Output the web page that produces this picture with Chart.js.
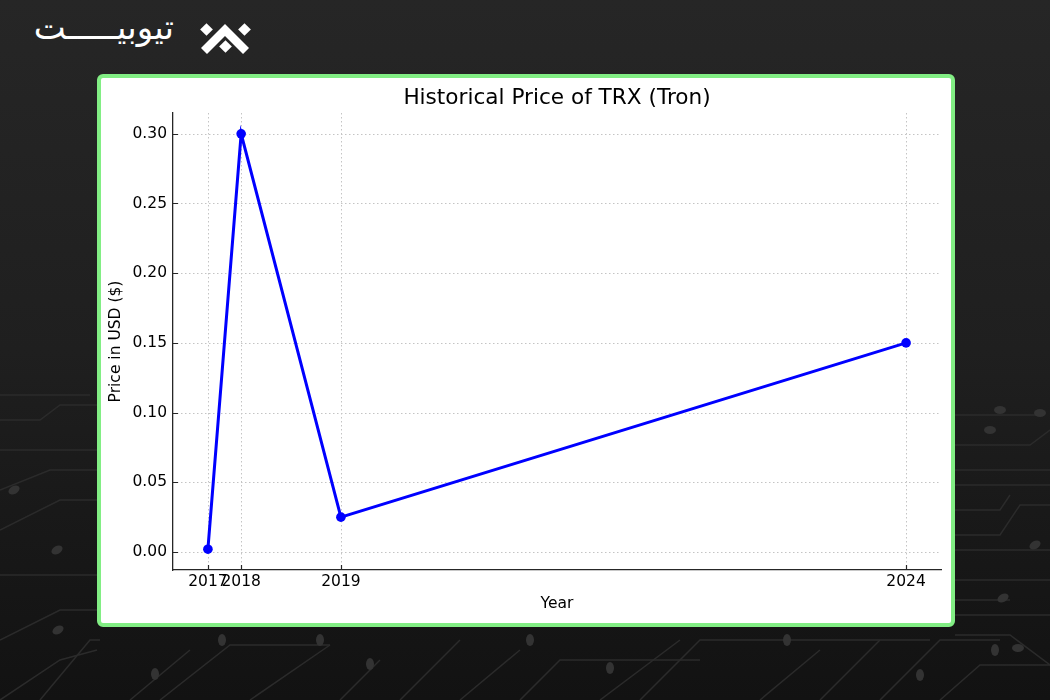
<!DOCTYPE html>
<html><head><meta charset="utf-8">
<script src="https://cdn.jsdelivr.net/npm/chart.js@4.4.1/dist/chart.umd.min.js"></script>
<style>
html,body{margin:0;padding:0;}
body{width:1050px;height:700px;overflow:hidden;position:relative;background:linear-gradient(#262626 0%,#1f1f1f 50%,#121212 100%);}
#bg{position:absolute;left:0;top:0;}
#logo{position:absolute;left:0;top:5px;width:174px;text-align:right;direction:rtl;color:#fff;font-family:"DejaVu Sans";font-size:34px;line-height:44px;white-space:nowrap;}
#panel{position:absolute;left:97px;top:74px;width:850px;height:545px;border:4px solid #82ee84;border-radius:6px;background:#fff;}
#c{display:block;}
</style></head>
<body>
<svg id="bg" width="1050" height="700" viewBox="0 0 1050 700">
  <g stroke="#2b2b2b" stroke-width="1.5" fill="none">
    <polyline points="0,395 90,395"/>
    <polyline points="0,420 40,420 60,405 97,405"/>
    <polyline points="0,450 97,450"/>
    <polyline points="0,490 50,470 97,470"/>
    <polyline points="0,530 60,500 97,500"/>
    <polyline points="0,575 97,575"/>
    <polyline points="0,640 60,610 97,610"/>
    <polyline points="0,700 60,660 97,650"/>
    <polyline points="955,415 1040,415"/>
    <polyline points="955,445 1030,445 1050,430"/>
    <polyline points="955,470 1050,470"/>
    <polyline points="955,485 1050,485"/>
    <polyline points="955,510 1000,510 1010,495"/>
    <polyline points="955,535 1000,535 1020,505 1050,505"/>
    <polyline points="955,550 1050,550"/>
    <polyline points="955,580 1050,580"/>
    <polyline points="955,600 1010,600"/>
    <polyline points="955,615 1050,615"/>
    <polyline points="955,635 1010,635 1050,665"/>
    <polyline points="40,700 90,640 100,640"/>
    <polyline points="130,700 190,650"/>
    <polyline points="160,700 230,645 330,645"/>
    <polyline points="250,700 330,645"/>
    <polyline points="340,700 380,660"/>
    <polyline points="400,700 460,640"/>
    <polyline points="460,700 520,650"/>
    <polyline points="520,700 560,660 700,660"/>
    <polyline points="600,700 680,640"/>
    <polyline points="640,700 700,640 930,640"/>
    <polyline points="760,700 820,650"/>
    <polyline points="820,700 880,640"/>
    <polyline points="880,700 940,640 1000,640"/>
    <polyline points="940,700 980,665 1050,665"/>
  </g>
  <g fill="#333">
    <ellipse cx="14" cy="490" rx="6" ry="4" transform="rotate(-30 14 490)"/>
    <ellipse cx="57" cy="550" rx="6" ry="4" transform="rotate(-30 57 550)"/>
    <ellipse cx="58" cy="630" rx="6" ry="4" transform="rotate(-30 58 630)"/>
    <ellipse cx="1035" cy="545" rx="6" ry="4" transform="rotate(-30 1035 545)"/>
    <ellipse cx="1003" cy="598" rx="6" ry="4" transform="rotate(-30 1003 598)"/>
    <ellipse cx="1000" cy="410" rx="6" ry="4"/>
    <ellipse cx="990" cy="430" rx="6" ry="4"/>
    <ellipse cx="1040" cy="413" rx="6" ry="4"/>
    <ellipse cx="1018" cy="648" rx="6" ry="4"/>
    <ellipse cx="222" cy="640" rx="4" ry="6"/>
    <ellipse cx="320" cy="640" rx="4" ry="6"/>
    <ellipse cx="530" cy="640" rx="4" ry="6"/>
    <ellipse cx="787" cy="640" rx="4" ry="6"/>
    <ellipse cx="995" cy="650" rx="4" ry="6"/>
    <ellipse cx="155" cy="674" rx="4" ry="6"/>
    <ellipse cx="370" cy="664" rx="4" ry="6"/>
    <ellipse cx="610" cy="668" rx="4" ry="6"/>
    <ellipse cx="920" cy="675" rx="4" ry="6"/>
  </g>
  <g fill="#fff">
    <polygon points="201,48 225,24 249,48 243,54 225,36 207,54"/>
    <rect x="202" y="25" width="9" height="9" transform="rotate(45 206.5 29.5)"/>
    <rect x="240" y="25" width="9" height="9" transform="rotate(45 244.5 29.5)"/>
    <rect x="221" y="42" width="9" height="9" transform="rotate(45 225.5 46.5)"/>
  </g>
</svg>
<div id="logo">تیوبیـــــت</div>
<div id="panel"><canvas id="c" width="850" height="545"></canvas></div>
<script>
const years = [2017.7, 2018.0, 2018.9, 2024.0];
const yearLabels = ['2017', '2018', '2019', '2024'];
const prices = [0.002, 0.30, 0.025, 0.15];
const priceTicks = [0.00, 0.05, 0.10, 0.15, 0.20, 0.25, 0.30];
const chartTitle = 'Historical Price of TRX (Tron)';

const xr = Math.max(...years) - Math.min(...years);
const yr = Math.max(...prices) - Math.min(...prices);
const xMin = Math.min(...years) - 0.05 * xr, xMax = Math.max(...years) + 0.05 * xr;
const yMin = Math.min(...prices) - 0.05 * yr, yMax = Math.max(...prices) + 0.05 * yr;

const FONT = 'DejaVu Sans';

const dottedGrid = {
  id: 'dottedGrid',
  beforeDatasetsDraw(chart) {
    const ctx = chart.ctx, xs = chart.scales.x, ys = chart.scales.y, a = chart.chartArea;
    ctx.save();
    ctx.strokeStyle = '#c4c4c4';
    ctx.lineWidth = 1;
    ctx.setLineDash([1.5, 2.5]);
    ctx.beginPath();
    years.forEach(v => { const p = Math.round(xs.getPixelForValue(v)) + 0.5; ctx.moveTo(p, a.top); ctx.lineTo(p, a.bottom); });
    priceTicks.forEach(v => { const p = Math.round(ys.getPixelForValue(v)) + 0.5; ctx.moveTo(a.left, p); ctx.lineTo(a.right, p); });
    ctx.stroke();
    ctx.restore();
  },
  afterDraw(chart) {
    const ctx = chart.ctx, xs = chart.scales.x, ys = chart.scales.y, a = chart.chartArea;
    ctx.save();
    ctx.strokeStyle = '#262626';
    ctx.lineWidth = 1.2;
    ctx.beginPath();
    years.forEach(v => { const p = Math.round(xs.getPixelForValue(v)) + 0.5; ctx.moveTo(p, a.bottom); ctx.lineTo(p, a.bottom - 5); });
    priceTicks.forEach(v => { const p = Math.round(ys.getPixelForValue(v)) + 0.5; ctx.moveTo(a.left, p); ctx.lineTo(a.left + 5, p); });
    ctx.stroke();
    ctx.fillStyle = '#000';
    ctx.font = '21.6px "DejaVu Sans"';
    ctx.textAlign = 'center';
    ctx.textBaseline = 'middle';
    ctx.fillText(chartTitle, (a.left + a.right) / 2, 20);
    ctx.restore();
  }
};

new Chart(document.getElementById('c'), {
  type: 'line',
  data: {
    datasets: [{
      data: years.map((x, i) => ({ x: x, y: prices[i] })),
      borderColor: '#0000ff',
      backgroundColor: '#0000ff',
      borderWidth: 3,
      pointRadius: 4.8,
      pointBorderWidth: 0,
      tension: 0,
      clip: false
    }]
  },
  options: {
    responsive: false,
    animation: false,
    devicePixelRatio: 1,
    layout: { padding: { left: 0, right: 10, top: 35, bottom: 0 } },
    plugins: {
      legend: { display: false },
      tooltip: { enabled: false },
      title: { display: false }
    },
    scales: {
      x: {
        type: 'linear',
        min: xMin, max: xMax,
        afterBuildTicks: s => { s.ticks = years.map(v => ({ value: v })); },
        afterFit: s => { s.height = 53; },
        ticks: {
          autoSkip: false, maxRotation: 0, minRotation: 0,
          callback: (v, i) => yearLabels[i],
          color: '#000',
          font: { family: FONT, size: 15.5 },
          padding: 3
        },
        grid: { display: false, drawTicks: false },
        border: { display: true, color: '#262626', width: 1.3 },
        title: {
          display: true, text: 'Year', color: '#000',
          font: { family: FONT, size: 15.5 },
          padding: { top: 0, bottom: 9.7 }
        }
      },
      y: {
        type: 'linear',
        min: yMin, max: yMax,
        afterBuildTicks: s => { s.ticks = priceTicks.map(v => ({ value: v })); },
        afterFit: s => { s.width = 72; },
        ticks: {
          callback: v => v.toFixed(2),
          color: '#000',
          font: { family: FONT, size: 15.5 },
          padding: 6
        },
        grid: { display: false, drawTicks: false },
        border: { display: true, color: '#262626', width: 1.3 },
        title: {
          display: true, text: 'Price in USD ($)', color: '#000',
          font: { family: FONT, size: 15.5 },
          padding: { top: 6, bottom: 0 }
        }
      }
    }
  },
  plugins: [dottedGrid]
});
</script>
</body></html>
